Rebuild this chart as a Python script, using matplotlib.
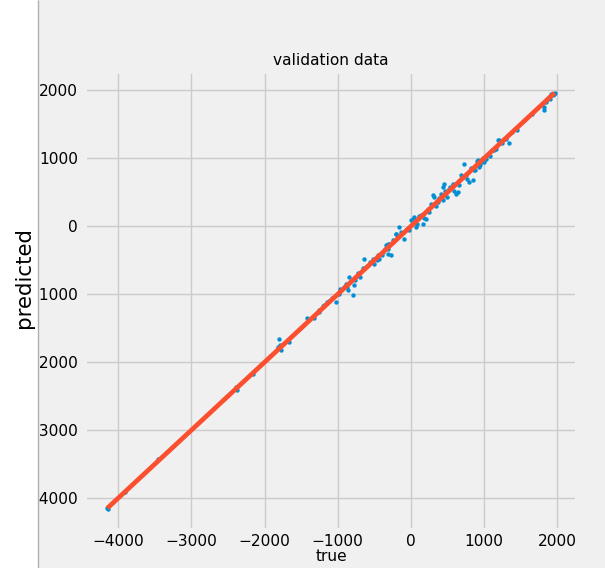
import matplotlib
matplotlib.use("Agg")
import matplotlib.pyplot as plt
from matplotlib.patches import Rectangle
from matplotlib.lines import Line2D

plt.style.use("fivethirtyeight")

# validation data: true vs predicted
true_vals = [
    -4150, -4140, -3907, -3460, -2377, -2391, -2163,
    -1799, -1785, -1776, -1662, -1821,
    -1421, -1321, -1253, -1184, -1116, -1025, -966, -888, -843, -857, -783, -797,
    -693, -638, -601, -501, -455, -433, -387, -342, -318, -273, -205, -318,
    -318, -205, -160, -91, 0, 23, 45, 68, 137, 160, 205, 250, 296, 319, 364,
    433, 455, 478, 523, 569, 569, 638, 615, 706, 728, 751, 797, 843, 865,
    911, 933, 956, 1002, 1048, 1138, 1161, 1206,
    1184, 1343, 1389, 1662, 1821, 1821, 1844, 1913, 1950, 1965, 1936, 1867, 1890,
    -1260, -1200, -1150, -1080, -980, -920, -870, -760, -720, -650, -560, -520,
    -470, -400, -360, -300, -240, -180, -130, -60, -20, 30, 90, 110, 180, 230,
    280, 340, 380, 410, 440, 470, 500, 540, 590, 660, 690, 770, 820, 880, 900,
    940, 980, 1020, 1080, 1110, 1250, 1300, 1450, 1900, 1960,
]
pred_vals = [
    -4150, -4165, -3912, -3431, -2412, -2372, -2176,
    -1652, -1750, -1824, -1710, -1775,
    -1343, -1343, -1260, -1162, -1098, -1113, -917, -853, -745, -931, -868, -1015,
    -745, -475, -588, -549, -426, -475, -378, -279, -328, -426, -107, -402,
    -255, -107, -10, -181, 88, 113, 137, -10, 162, 40, 113, 211, 456, 431, 358,
    578, 628, 505, 554, 603, 628, 505, 480, 725, 922, 750, 652, 676, 824,
    971, 872, 946, 946, 1069, 1118, 1143, 1265,
    1265, 1225, 1387, 1657, 1755, 1706, 1828, 1945, 1955, 1960, 1926, 1877, 1902,
    -1230, -1180, -1120, -1060, -1000, -890, -900, -790, -690, -620, -530, -480,
    -500, -420, -330, -260, -200, -150, -90, -40, -60, 60, 40, 150, 120, 260,
    330, 300, 420, 470, 380, 520, 430, 580, 520, 610, 760, 700, 860, 830, 960,
    900, 1010, 990, 1040, 1130, 1230, 1280, 1420, 1880, 1950,
]
line_vals = [min(true_vals), max(true_vals)]

title_text = "validation data"
xlabel_text = "true"
ylabel_text = "predicted"

fig = plt.figure(figsize=(6.05, 5.68), dpi=100)
fig.patch.set_facecolor("#f0f0f0")
ax = fig.add_axes([0.1405, 0.0669, 0.8132, 0.8063])
ax.set_facecolor("#f0f0f0")

ax.scatter(true_vals, pred_vals, s=10, color="#008fd5", zorder=2, linewidths=0)
ax.plot(line_vals, line_vals, color="#fc4f30", linewidth=3.4, zorder=3)

ax.set_xticks([-4000, -3000, -2000, -1000, 0, 1000, 2000])
ax.set_yticks([2000, 1000, 0, -1000, -2000, -3000, -4000])
ax.tick_params(axis="y", labelsize=11.1, pad=5)
ax.tick_params(axis="x", labelsize=11.1, pad=3)
ax.set_title(title_text, fontsize=11.1, pad=5)
ax.set_xlabel(xlabel_text, fontsize=11.1, labelpad=0)

# white strip on the left, covering part of the tick labels, with a gray border line
fig.add_artist(Rectangle((0, 0), 37.5 / 605, 1, transform=fig.transFigure,
                         facecolor="white", edgecolor="none", zorder=5))
fig.add_artist(Line2D([37.5 / 605, 37.5 / 605], [0, 1], transform=fig.transFigure,
                      color="#b0b0b0", linewidth=1, zorder=6))
fig.text(24 / 605, 1 - 278 / 568, ylabel_text, rotation=90, fontsize=15.4,
         ha="center", va="center", zorder=7)

fig.savefig("out.png", dpi=100, facecolor="#f0f0f0")
